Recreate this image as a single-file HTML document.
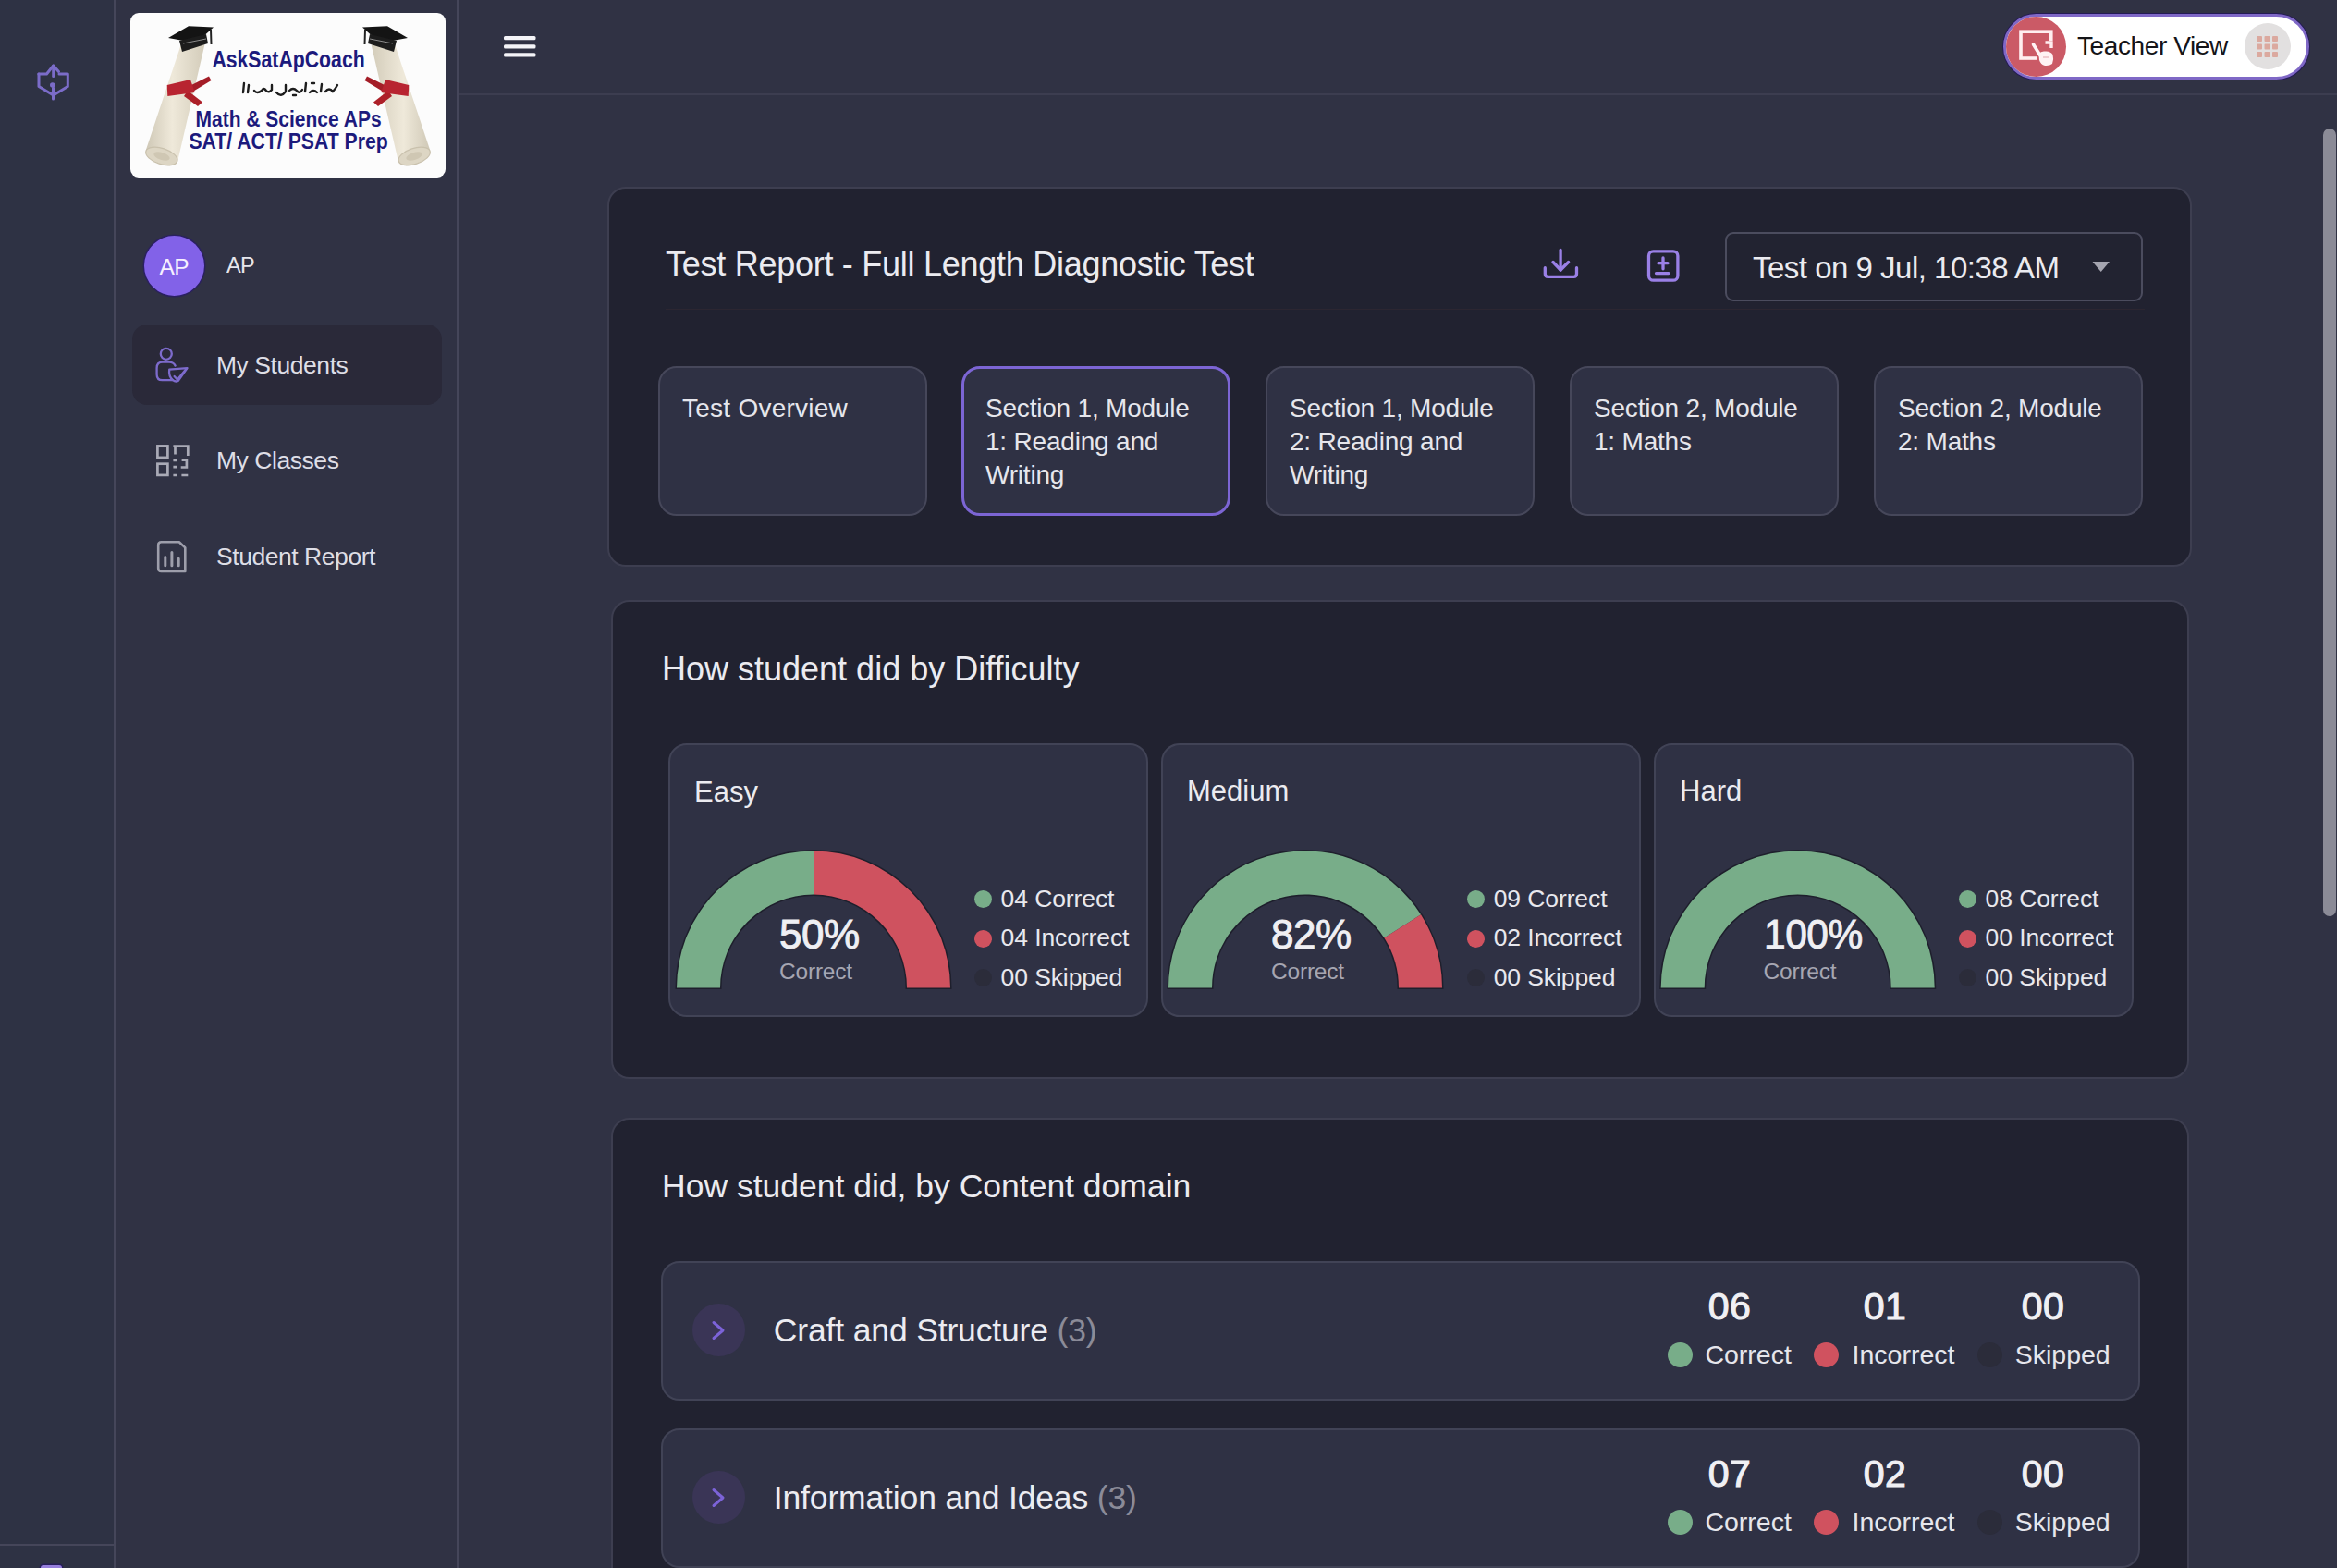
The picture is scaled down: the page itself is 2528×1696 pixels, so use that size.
<!DOCTYPE html>
<html><head><meta charset="utf-8">
<style>
*{box-sizing:border-box;margin:0;padding:0}
html,body{width:2528px;height:1696px;overflow:hidden;background:#303244;font-family:"Liberation Sans",sans-serif;color:#ebebf0}
.a{position:absolute}
.t{position:absolute;white-space:nowrap;line-height:1}
.vl{position:absolute;top:0;width:2px;height:1696px;background:#45465a}
.card{position:absolute;background:#212230;border:2px solid #3d3e50;border-radius:20px}
.tab{position:absolute;top:396px;width:291px;height:162px;border:2px solid #46475a;border-radius:20px;background:#2f3144}
.tab .tx{position:absolute;left:24px;top:26px;font-size:28px;line-height:36px;letter-spacing:-0.2px;color:#e6e6ec;white-space:nowrap}
.dc{position:absolute;top:804px;width:519px;height:296px;border:2px solid #414356;border-radius:20px;background:#2f3144}
.row{position:absolute;left:715px;width:1600px;height:151px;border:2px solid #414356;border-radius:20px;background:#2f3144}
.lg{position:absolute;font-size:26.5px;line-height:1;white-space:nowrap;color:#e8e8ee;letter-spacing:-0.1px}
.dt{position:absolute;width:19px;height:19px;border-radius:50%;margin:0.5px}
.pct{position:absolute;font-size:44px;font-weight:400;-webkit-text-stroke:0.9px #efeff3;line-height:1;white-space:nowrap;color:#efeff3;letter-spacing:-0.5px}
.pl{position:absolute;font-size:24.5px;line-height:1;white-space:nowrap;color:#a6a6b2;letter-spacing:-0.2px}
.dh{position:absolute;font-size:31px;line-height:1;white-space:nowrap;color:#ebebf0}
.num{position:absolute;font-size:41px;font-weight:400;-webkit-text-stroke:1.1px #f0f0f4;line-height:1;white-space:nowrap;color:#f0f0f4;text-align:center;width:120px;letter-spacing:0.5px}
.sl{position:absolute;font-size:28.5px;line-height:1;white-space:nowrap;color:#e6e6ec}
.sd{position:absolute;width:27px;height:27px;border-radius:50%}
.nav{position:absolute;font-size:26.5px;line-height:1;white-space:nowrap;color:#dedee6;letter-spacing:-0.45px}
.g{background:#78ad89}.r{background:#d0525f}.k{background:#2b2c3a}
</style></head><body>
<!-- rails / dividers -->
<div class="a" style="left:0;top:0;width:123px;height:1696px;background:#2e3244"></div>
<div class="vl" style="left:123px"></div>
<div class="vl" style="left:494px"></div>
<div class="a" style="left:0;top:1670px;width:123px;height:2px;background:#45465a"></div>
<div class="a" style="left:44px;top:1693px;width:23px;height:8px;border-radius:3px;background:#967fdc;box-shadow:0 0 0 1.5px #261d5a"></div>
<div class="a" style="left:496px;top:101px;width:2032px;height:2px;background:#3c3d50"></div>

<!-- scrollbar -->
<div class="a" style="left:2513px;top:139px;width:14px;height:852px;border-radius:7px;background:#8b8b97"></div>

<!-- sidebar -->
<div class="a" style="left:143px;top:351px;width:335px;height:87px;border-radius:16px;background:#2a2939"></div>
<div class="a" style="left:156px;top:255px;width:65px;height:65px;border-radius:50%;background:#8262e8;box-shadow:0 0 0 1.5px #2a2060"></div>
<div class="t" style="left:172.5px;top:276.8px;font-size:24.5px;letter-spacing:-0.6px;color:#f6f0ff">AP</div>
<div class="t" style="left:245px;top:275.9px;font-size:23.5px;letter-spacing:-0.7px;color:#e6e6ec">AP</div>
<div class="nav" style="left:234px;top:381.5px">My Students</div>
<div class="nav" style="left:234px;top:484.5px">My Classes</div>
<div class="nav" style="left:234px;top:588.5px">Student Report</div>

<!-- header: teacher view pill -->
<div class="a" style="left:2167px;top:15px;width:331px;height:71px;border-radius:36px;background:#fff;border:3px solid #7f68c6;box-shadow:0 0 0 1px #231a55"></div>
<div class="a" style="left:2170px;top:17.5px;width:65px;height:65px;border-radius:50%;background:#cb5a66"></div>
<div class="t" style="left:2247px;top:36.3px;font-size:28px;letter-spacing:-0.4px;color:#141418">Teacher View</div>
<div class="a" style="left:2428px;top:25px;width:50px;height:50px;border-radius:50%;background:#e2e0e0"></div>

<!-- CARD 1 -->
<div class="card" style="left:657px;top:202px;width:1714px;height:411px"></div>
<div class="t" style="left:720px;top:267.5px;font-size:36px;letter-spacing:-0.27px">Test Report - Full Length Diagnostic Test</div>
<div class="a" style="left:720px;top:334px;width:1600px;height:1px;background:#2c2631"></div>
<div class="a" style="left:1866px;top:251px;width:452px;height:75px;border:2px solid #4b4c5e;border-radius:9px;background:#222331"></div>
<div class="t" style="left:1896px;top:272.6px;font-size:33px;letter-spacing:-0.5px">Test on 9 Jul, 10:38 AM</div>

<div class="tab" style="left:712px"><div class="tx" style="letter-spacing:0.25px">Test Overview</div></div>
<div class="tab" style="left:1040px;border:3px solid #7c65d4"><div class="tx" style="left:23px;top:25px">Section 1, Module<br>1: Reading and<br>Writing</div></div>
<div class="tab" style="left:1369px"><div class="tx">Section 1, Module<br>2: Reading and<br>Writing</div></div>
<div class="tab" style="left:1698px"><div class="tx">Section 2, Module<br>1: Maths</div></div>
<div class="tab" style="left:2027px"><div class="tx">Section 2, Module<br>2: Maths</div></div>

<!-- CARD 2 -->
<div class="card" style="left:661px;top:649px;width:1707px;height:518px"></div>
<div class="t" style="left:716px;top:705.5px;font-size:36px">How student did by Difficulty</div>
<div class="dc" style="left:723px"></div>
<div class="dc" style="left:1256px"></div>
<div class="dc" style="left:1789px"></div>
<div class="dh" style="left:751px;top:840.8px">Easy</div>
<div class="dh" style="left:1284px;top:840px">Medium</div>
<div class="dh" style="left:1817px;top:840px">Hard</div>

<!-- CARD 3 -->
<div class="card" style="left:661px;top:1209px;width:1707px;height:600px"></div>
<div class="t" style="left:716px;top:1266px;font-size:35.5px">How student did, by Content domain</div>
<div class="row" style="top:1364px"></div>
<div class="row" style="top:1545px"></div>

<!-- SVG overlay -->
<svg class="a" style="left:0;top:0" width="2528" height="1696" viewBox="0 0 2528 1696">
  <!-- gauges -->
  <path d="M732.0,1068.5 A148,148 0 0 1 1028.0,1068.5 L981.0,1068.5 A101,101 0 0 0 779.0,1068.5 Z" fill="none" stroke="#1e1f2c" stroke-width="3"/>
  <path d="M732.0,1068.5 A148,148 0 0 1 880.0,920.5 L880.0,967.5 A101,101 0 0 0 779.0,1068.5 Z" fill="#78ad89"/>
  <path d="M880.0,920.5 A148,148 0 0 1 1028.0,1068.5 L981.0,1068.5 A101,101 0 0 0 880.0,967.5 Z" fill="#cf525f"/>
  <path d="M1264.0,1068.5 A148,148 0 0 1 1560.0,1068.5 L1513.0,1068.5 A101,101 0 0 0 1311.0,1068.5 Z" fill="none" stroke="#1e1f2c" stroke-width="3"/>
  <path d="M1264.0,1068.5 A148,148 0 0 1 1537.0,989.2 L1497.3,1014.4 A101,101 0 0 0 1311.0,1068.5 Z" fill="#78ad89"/>
  <path d="M1537.0,989.2 A148,148 0 0 1 1560.0,1068.5 L1513.0,1068.5 A101,101 0 0 0 1497.3,1014.4 Z" fill="#cf525f"/>
  <path d="M1796.7,1068.5 A148,148 0 0 1 2092.7,1068.5 L2045.7,1068.5 A101,101 0 0 0 1843.7,1068.5 Z" fill="none" stroke="#1e1f2c" stroke-width="3"/>
  <path d="M1796.7,1068.5 A148,148 0 0 1 2092.7,1068.5 L2045.7,1068.5 A101,101 0 0 0 1843.7,1068.5 Z" fill="#78ad89"/>
  <!-- hamburger -->
  <g fill="#f4f4f8">
    <rect x="545" y="39" width="34.5" height="4.3" rx="1.5"/>
    <rect x="545" y="48.2" width="34.5" height="4.3" rx="1.5"/>
    <rect x="545" y="57.2" width="34.5" height="4.3" rx="1.5"/>
  </g>
  <!-- rail icon -->
  <g fill="none" stroke="#7b6cc9" stroke-width="3" stroke-linecap="round" stroke-linejoin="round">
    <path d="M57.7,71 L57.7,82.5"/>
    <path d="M41.8,80 L50.5,80 L57.7,71 L63.5,77.5"/>
    <path d="M64,80 L73.3,80 L73.3,93.5 L57.7,103 L42,93.5 L42,80"/>
    <path d="M57.5,95 L57.5,107"/>
  </g>
  <circle cx="56.8" cy="92" r="2.8" fill="#7b6cc9"/>
  <!-- download icon -->
  <g fill="none" stroke="#9a80e6" stroke-width="3.3" stroke-linecap="round" stroke-linejoin="round">
    <path d="M1688.1,270.5 L1688.1,292"/>
    <path d="M1680,283.5 L1688.1,292 L1696.6,283.5"/>
    <path d="M1671.3,289.7 L1671.3,296 Q1671.3,299.3 1674.5,299.3 L1702.3,299.3 Q1705.5,299.3 1705.5,296 L1705.5,289.7"/>
  </g>
  <!-- stack icon -->
  <g fill="none" stroke="#9a80e6" stroke-width="3.3" stroke-linecap="round" stroke-linejoin="round">
    <rect x="1783.5" y="271.8" width="31.4" height="31.4" rx="5"/>
    <path d="M1799,279 L1799,290.8 M1794,284.7 L1804,284.7 M1791.5,295.6 L1805,295.6"/>
  </g>
  <!-- caret -->
  <path d="M2263.5,283 L2282,283 L2272.7,294 Z" fill="#a5a5b0"/>
  <!-- nav icons -->
  <g fill="none" stroke="#7d6bcc" stroke-width="2.3" stroke-linecap="round" stroke-linejoin="round">
    <circle cx="179.8" cy="382.8" r="6"/>
    <path d="M189.6,395.6 Q187.5,391.7 183,391.7 L176,391.7 Q169.6,391.7 169.6,398 L169.6,405 Q169.6,411.2 175.5,411.2 L187,411.2"/>
    <path d="M183.2,399.6 L202.5,398.1 L193,411.7 Q190,413.5 187,411.2 Q182.2,407 183.2,399.6 Z"/>
    <path d="M188.6,407 L192,410.6 L201.5,399"/>
  </g>
  <g fill="none" stroke="#a9aab6" stroke-width="2.7">
    <rect x="170.4" y="482.4" width="11" height="12.5"/>
    <rect x="170.4" y="501.7" width="11" height="12.2"/>
    <path d="M187.4,482.6 L203.3,482.6 L203.3,493 M189.5,482.6 L189.5,491.4 M187.4,497.8 L191.8,497.8 M196.6,497.6 L201.9,497.6 L201.9,505.5 L195.7,505.5 M187.4,505.2 L191.8,505.2 M187.4,514 L191.8,514 M196.4,514 L203.3,514"/>
  </g>
  <g fill="none" stroke="#9d9eab" stroke-width="2.6" stroke-linejoin="round" stroke-linecap="round">
    <path d="M174.5,586.3 L193.8,586.3 L200.3,592.4 L200.3,618 L174.5,618 Q171.2,618 171.2,614.5 L171.2,589.5 Q171.2,586.3 174.5,586.3 Z"/>
    <path d="M178.8,602.5 L178.8,611.7 M185.9,597.6 L185.9,611.7 M193.2,604.3 L193.2,611.7" stroke-width="3"/>
  </g>
</svg>

<!-- gauge texts -->
<div class="pct" style="left:843px;top:989.3px">50%</div>
<div class="pl" style="left:843px;top:1038.8px">Correct</div>
<div class="pct" style="left:1375px;top:989.3px">82%</div>
<div class="pl" style="left:1375px;top:1038.8px">Correct</div>
<div class="pct" style="left:1907.5px;top:989.3px;transform:scaleX(0.965);transform-origin:0 0">100%</div>
<div class="pl" style="left:1907.5px;top:1038.8px">Correct</div>

<!-- legends -->
<div class="dt g" style="left:1053.5px;top:962px"></div><div class="lg" style="left:1082.6px;top:958.6px">04 Correct</div>
<div class="dt r" style="left:1053.5px;top:1005px"></div><div class="lg" style="left:1082.6px;top:1001.1px">04 Incorrect</div>
<div class="dt k" style="left:1053.5px;top:1047px"></div><div class="lg" style="left:1082.6px;top:1043.6px">00 Skipped</div>
<div class="dt g" style="left:1586px;top:962px"></div><div class="lg" style="left:1615.7px;top:958.6px">09 Correct</div>
<div class="dt r" style="left:1586px;top:1005px"></div><div class="lg" style="left:1615.7px;top:1001.1px">02 Incorrect</div>
<div class="dt k" style="left:1586px;top:1047px"></div><div class="lg" style="left:1615.7px;top:1043.6px">00 Skipped</div>
<div class="dt g" style="left:2118px;top:962px"></div><div class="lg" style="left:2147.6px;top:958.6px">08 Correct</div>
<div class="dt r" style="left:2118px;top:1005px"></div><div class="lg" style="left:2147.6px;top:1001.1px">00 Incorrect</div>
<div class="dt k" style="left:2118px;top:1047px"></div><div class="lg" style="left:2147.6px;top:1043.6px">00 Skipped</div>

<!-- domain rows -->
<div class="a" style="left:748.5px;top:1410px;width:57px;height:57px;border-radius:50%;background:#3a3556"></div>
<div class="a" style="left:748.5px;top:1591px;width:57px;height:57px;border-radius:50%;background:#3a3556"></div>
<svg class="a" style="left:0;top:0" width="2528" height="1696">
  <g fill="none" stroke="#7c63d8" stroke-width="3" stroke-linecap="round" stroke-linejoin="round">
    <path d="M772,1430.5 L782,1439 L772,1447.5"/>
    <path d="M772,1611.5 L782,1620 L772,1628.5"/>
  </g>
</svg>
<div class="t" style="left:836.8px;top:1421.5px;font-size:35.5px;letter-spacing:-0.15px;color:#ececf1">Craft and Structure <span style="color:#8b8b98">(3)</span></div>
<div class="t" style="left:836.8px;top:1602.5px;font-size:35.5px;letter-spacing:-0.15px;color:#ececf1">Information and Ideas <span style="color:#8b8b98">(3)</span></div>

<div class="num" style="left:1811px;top:1392.9px">06</div>
<div class="num" style="left:1979px;top:1392.9px">01</div>
<div class="num" style="left:2150px;top:1392.9px">00</div>
<div class="sd g" style="left:1803.5px;top:1451.5px"></div><div class="sl" style="left:1844.4px;top:1451.2px">Correct</div>
<div class="sd r" style="left:1961.5px;top:1451.5px"></div><div class="sl" style="left:2003.6px;top:1451.2px">Incorrect</div>
<div class="sd k" style="left:2138.5px;top:1451.5px"></div><div class="sl" style="left:2179.7px;top:1451.2px">Skipped</div>

<div class="num" style="left:1811px;top:1573.9px">07</div>
<div class="num" style="left:1979px;top:1573.9px">02</div>
<div class="num" style="left:2150px;top:1573.9px">00</div>
<div class="sd g" style="left:1803.5px;top:1632.5px"></div><div class="sl" style="left:1844.4px;top:1632.2px">Correct</div>
<div class="sd r" style="left:1961.5px;top:1632.5px"></div><div class="sl" style="left:2003.6px;top:1632.2px">Incorrect</div>
<div class="sd k" style="left:2138.5px;top:1632.5px"></div><div class="sl" style="left:2179.7px;top:1632.2px">Skipped</div>

<!-- LOGO -->
<div id="logo" class="a" style="left:141px;top:13.5px;width:341px;height:178px;border-radius:9px;background:#fcfcfc;overflow:hidden"></div>
<svg class="a" style="left:141px;top:13.5px" width="341" height="178" viewBox="0 0 341 178">
  <defs>
    <linearGradient id="scr" x1="0" y1="0" x2="1" y2="0">
      <stop offset="0" stop-color="#cfc8b6"/><stop offset="0.45" stop-color="#efe9da"/><stop offset="1" stop-color="#d3ccba"/>
    </linearGradient>
    <g id="scroll">
      <polygon points="54.4,35.4 80.4,34.2 50.9,161.6 16.7,148.7" fill="url(#scr)"/>
      <ellipse cx="33.8" cy="155" rx="17.8" ry="8.5" transform="rotate(18 33.8 155)" fill="#ddd6c4" stroke="#c9c1ad" stroke-width="1.2"/>
      <ellipse cx="34" cy="155" rx="9" ry="4" transform="rotate(18 34 155)" fill="#cfc7b3"/>
      <polygon points="41,27 63,14.2 90,15.6 71,32.5" fill="#141414"/>
      <polygon points="53,30 82,23 84,33 56,42" fill="#1c1c1c"/>
      <path d="M57,33 L82,28" stroke="#8a8a8a" stroke-width="1"/>
      <path d="M87,18 L87.5,34" stroke="#222" stroke-width="2"/>
      <polygon points="62,80 85,68.5 87.5,73 66,86" fill="#a41d27"/>
      <polygon points="62,84 78,96.5 73,101 58,90" fill="#ad2029"/>
      <polygon points="39.7,78 65,72 69.8,86 40.3,90" fill="#b82430"/>
    </g>
  </defs>
  <use href="#scroll"/>
  <use href="#scroll" transform="translate(341,0) scale(-1,1)"/>
  <g fill="#1c1a7c" font-family="Liberation Sans" font-weight="700">
    <text x="88.4" y="58.5" font-size="25" textLength="165.3" lengthAdjust="spacingAndGlyphs">AskSatApCoach</text>
    <text x="70.5" y="122.7" font-size="23" textLength="201.1" lengthAdjust="spacingAndGlyphs">Math &amp; Science APs</text>
    <text x="63.4" y="146.5" font-size="24" textLength="215.3" lengthAdjust="spacingAndGlyphs">SAT/ ACT/ PSAT Prep</text>
  </g>
  <g fill="none" stroke="#1d1d1d" stroke-width="2.4" stroke-linecap="round">
    <path d="M122,86 L123,76 M127,86 L128,78 M134,84 Q137,88 142,84 Q144,80 147,84 Q150,87 153,83 L153,78"/>
    <path d="M158,86 Q163,92 168,85 L168,78 M172,84 Q176,80 180,84 Q183,88 186,83 M189,85 L190,76 M194,86 Q198,82 202,86"/>
    <path d="M206,85 L207,77 M211,85 Q215,80 219,85 Q222,82 224,78"/>
    <path d="M176,89 L179,89 M196,76 L199,76"/>
  </g>
</svg>
<svg class="a" style="left:0;top:0" width="2528" height="110" viewBox="0 0 2528 110">
  <rect x="2186" y="34.2" width="32.8" height="28.8" fill="none" stroke="#ffeef0" stroke-width="3.6"/>
  <rect x="2204" y="44" width="20" height="24" fill="#cb5a66"/>
  <path d="M2199.5,48 L2207,60" stroke="#fff2f4" stroke-width="3.6" stroke-linecap="round"/>
  <path d="M2212.5,46 L2219,46 L2219,52" stroke="#ffeef0" stroke-width="3.4" fill="none"/>
  <path d="M2205.5,58 Q2208,55 2212,55.5 Q2218,55 2220.5,59 Q2222,64 2220,69 Q2217,71.5 2212,71 Q2207.5,70 2206,65 Z" fill="#fff2f4"/>
  <path d="M2210,62 L2216,62" stroke="#cb5a66" stroke-width="1" opacity="0.5"/>
  <g fill="#dba99f">
    <rect x="2441" y="39" width="6" height="6" rx="1"/><rect x="2449.5" y="39" width="6" height="6" rx="1"/><rect x="2458" y="39" width="6" height="6" rx="1"/>
    <rect x="2441" y="47.5" width="6" height="6" rx="1"/><rect x="2449.5" y="47.5" width="6" height="6" rx="1"/><rect x="2458" y="47.5" width="6" height="6" rx="1"/>
    <rect x="2441" y="56" width="6" height="6" rx="1"/><rect x="2449.5" y="56" width="6" height="6" rx="1"/><rect x="2458" y="56" width="6" height="6" rx="1"/>
  </g>
</svg>
</body></html>
